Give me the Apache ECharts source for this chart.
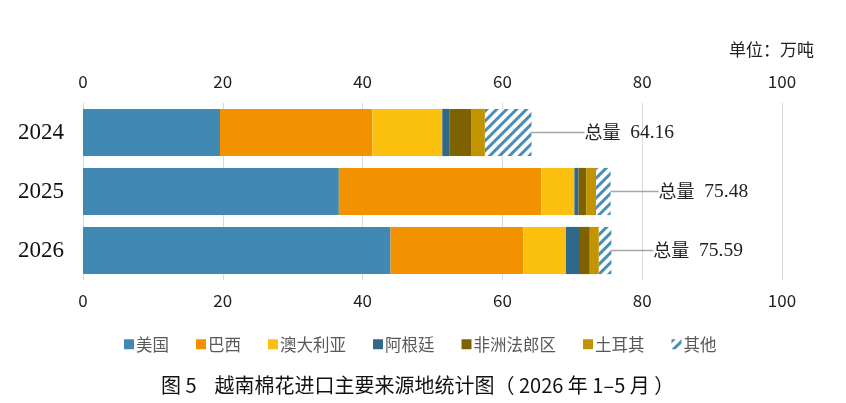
<!DOCTYPE html>
<html>
<head>
<meta charset="utf-8">
<script src="https://cdn.jsdelivr.net/npm/echarts@6/dist/echarts.min.js"></script>
<style>
  html, body { margin: 0; padding: 0; background: #fff; }
  #chart { width: 846px; height: 403px; }
</style>
</head>
<body>
<div id="chart"></div>
<script>
const years = ['2024', '2025', '2026'];
const usa = [19.6, 36.6, 44.0];
const brazil = [21.8, 29.0, 19.0];
const australia = [10.0, 4.7, 6.1];
const argentina = [1.0, 0.6, 2.0];
const cfa = [3.2, 1.1, 1.4];
const turkey = [1.9, 1.4, 1.3];
const others = [6.66, 2.08, 1.79];
const totals = [64.16, 75.48, 75.59];
const xTicks = [0, 20, 40, 60, 80, 100];

// how far each total label sits from the end of its bar
const labelOffsets = [53, 48, 42];

const serif = '"Liberation Serif", "Noto Sans CJK SC", serif';
const sans = '"Noto Sans CJK SC", "Noto Sans", sans-serif';

const chart = echarts.init(document.getElementById('chart'));

const barSeries = {
  type: 'bar',
  stack: 'total',
  barCategoryGap: '20%',
  xAxisIndex: 0,
  emphasis: { disabled: true }
};

const xAxisBase = {
  type: 'value',
  min: xTicks[0],
  max: xTicks[xTicks.length - 1],
  interval: 20,
  axisLine: { show: false },
  axisTick: { show: false },
  axisLabel: {
    color: '#222',
    fontSize: 17,
    fontFamily: sans,
    margin: 13
  }
};

const option = {
  animation: false,
  aria: { enabled: true, decal: { show: false } },
  title: [
    {
      text: '单位：万吨',
      right: 27,
      top: 36,
      textStyle: { color: '#222', fontSize: 17, fontWeight: 'normal', fontFamily: sans }
    },
    {
      text: '图 5    越南棉花进口主要来源地统计图（ 2026 年 1–5 月 ）',
      left: 156,
      top: 370,
      textStyle: { color: '#111', fontSize: 20, fontWeight: 'normal', fontFamily: sans }
    }
  ],
  legend: {
    top: 331,
    left: 119,
    itemWidth: 10,
    itemHeight: 10,
    itemGap: 27,
    icon: 'rect',
    textStyle: { color: '#595959', fontSize: 16.5, fontFamily: sans, padding: [0, 0, 0, -3] },
    data: ['美国', '巴西', '澳大利亚', '阿根廷', '非洲法郎区', '土耳其', '其他']
  },
  grid: {
    left: 83,
    right: 64,
    top: 103,
    height: 177
  },
  xAxis: [
    {
      ...xAxisBase,
      position: 'bottom',
      axisLabel: { ...xAxisBase.axisLabel, margin: 12 },
      splitLine: { show: true, lineStyle: { color: '#d9d9d9', width: 1 } }
    },
    {
      ...xAxisBase,
      position: 'top',
      splitLine: { show: false }
    }
  ],
  yAxis: {
    type: 'category',
    inverse: true,
    data: years,
    axisLine: { show: false },
    axisTick: { show: false },
    axisLabel: { color: '#111', fontSize: 23, fontFamily: serif, margin: 19 }
  },
  series: [
    { ...barSeries, name: '美国', itemStyle: { color: '#4189B3' }, data: usa },
    { ...barSeries, name: '巴西', itemStyle: { color: '#F39200' }, data: brazil },
    { ...barSeries, name: '澳大利亚', itemStyle: { color: '#FCC10E' }, data: australia },
    { ...barSeries, name: '阿根廷', itemStyle: { color: '#2F6888' }, data: argentina },
    { ...barSeries, name: '非洲法郎区', itemStyle: { color: '#7F6200' }, data: cfa },
    { ...barSeries, name: '土耳其', itemStyle: { color: '#C29500' }, data: turkey },
    {
      ...barSeries,
      name: '其他',
      itemStyle: {
        color: '#ffffff',
        decal: {
          symbol: 'rect',
          symbolSize: 1,
          color: '#4A8DB5',
          dashArrayX: [1, 0],
          dashArrayY: [3, 4],
          rotation: -Math.PI / 4
        }
      },
      label: {
        show: true,
        position: 'right',
        distance: 0,
        formatter: (p) => '{a|总量}{b|  ' + totals[p.dataIndex].toFixed(2) + '}',
        rich: {
          a: { color: '#222', fontSize: 18, fontFamily: sans },
          b: { color: '#222', fontSize: 19.5, fontFamily: serif }
        }
      },
      labelLayout: (p) => ({ dx: labelOffsets[p.dataIndex] }),
      labelLine: {
        show: true,
        lineStyle: { color: '#a6a6a6', width: 1.5 }
      },
      data: others
    }
  ]
};

chart.setOption(option);
</script>
</body>
</html>
